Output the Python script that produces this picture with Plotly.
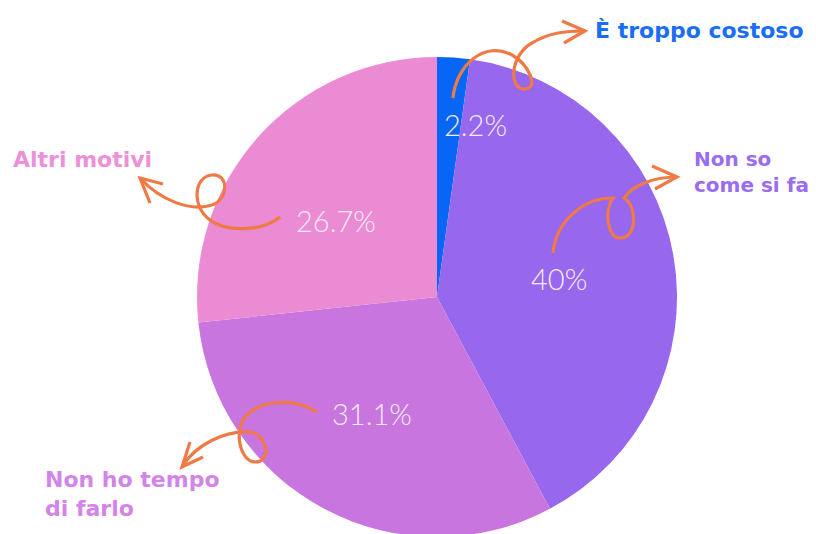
import plotly.graph_objects as go

# ---- data ----
categories = ["È troppo costoso", "Non so come si fa", "Non ho tempo di farlo", "Altri motivi"]
label_texts = ["È troppo costoso", "Non so<br>come si fa", "Non ho tempo<br>di farlo", "Altri motivi"]
values = [2.2, 40, 31.1, 26.7]

slice_colors = ["#0866f7", "#9767ee", "#c875df", "#eb8bd4"]
label_colors = ["#1a6ef5", "#9a6cf0", "#d384e8", "#ee90d8"]
label_sizes = [22, 20, 22, 22]
arrow_color = "#f07a45"

W, H = 816, 534
OFF = 8  # page body margin


def px(x, y):
    return (x - OFF) / W, 1 - (y - OFF) / H


def path(cmds):
    out = []
    for c in cmds:
        if isinstance(c, str):
            out.append(c)
        else:
            a, b = px(*c)
            out.append(f"{a:.5f},{b:.5f}")
    return " ".join(out)


# pie placed so that its centre is at (437, 297) px with radius 240
cx, cy, r = 437, 297, 240
x0, _ = px(cx - r, 0)
x1, _ = px(cx + r, 0)
_, y1 = px(0, cy - r)
_, y0 = px(0, cy + r)

fig = go.Figure(go.Pie(
    labels=categories,
    values=values,
    sort=False,
    direction="clockwise",
    rotation=0,
    marker=dict(colors=slice_colors, line=dict(width=0)),
    textinfo="none",
    hoverinfo="skip",
    domain=dict(x=[x0, x1], y=[max(y0, 0), min(y1, 1)]),
    showlegend=False,
))

# percent labels (positions in pixels)
pct_pos = [(476, 125), (559, 278), (372, 413), (336, 220)]
annotations = []
for v, (x, y) in zip(values, pct_pos):
    ax, ay = px(x, y)
    annotations.append(dict(
        x=ax, y=ay, xref="paper", yref="paper", showarrow=False,
        text=f"{v:g}%", xanchor="center", yanchor="middle",
        font=dict(family="Lato", size=29, color="#f5ecf7", weight=300),
    ))

# category labels
lab_pos = [(593, 31), (692, 172), (43, 494), (11, 159)]
for t, c, s, (x, y) in zip(label_texts, label_colors, label_sizes, lab_pos):
    ax, ay = px(x, y)
    annotations.append(dict(
        x=ax, y=ay, xref="paper", yref="paper", showarrow=False,
        text=f"<b>{t}</b>", xanchor="left", yanchor="middle", align="left",
        font=dict(family="DejaVu Sans", size=s, color=c),
    ))

line = dict(color=arrow_color, width=3.2)
arrow_paths = [
    # È troppo costoso
    ["M", (453, 98), "C", (456, 65), (485, 40), (512, 55),
     "C", (528, 64), (540, 88), (525, 89),
     "C", (508, 90), (510, 55), (532, 43),
     "C", (548, 33), (565, 31), (585, 31)],
    ["M", (562, 21), "L", (585, 31), "L", (564, 43)],
    # Non so come si fa
    ["M", (553, 253), "C", (556, 222), (582, 198), (613, 198),
     "C", (604, 210), (607, 238), (620, 238),
     "C", (638, 238), (637, 205), (624, 198),
     "C", (632, 186), (652, 177), (677, 177)],
    ["M", (652, 166), "L", (677, 177), "L", (655, 189)],
    # Altri motivi
    ["M", (280, 217), "C", (262, 232), (225, 232), (210, 220),
     "C", (190, 205), (195, 176), (212, 175),
     "C", (230, 174), (228, 200), (212, 205),
     "C", (190, 212), (160, 200), (140, 178)],
    ["M", (163, 184), "L", (140, 178), "L", (150, 203)],
    # Non ho tempo di farlo
    ["M", (317, 412), "C", (295, 398), (262, 400), (248, 414),
     "C", (232, 428), (240, 462), (255, 462),
     "C", (272, 462), (268, 435), (250, 432),
     "C", (225, 430), (195, 445), (182, 467)],
    ["M", (190, 442), "L", (182, 467), "L", (203, 457)],
]
shapes = [dict(type="path", path=path(p), xref="paper", yref="paper", line=line,
               fillcolor="rgba(0,0,0,0)") for p in arrow_paths]

fig.update_layout(
    width=W, height=H,
    margin=dict(l=0, r=0, t=0, b=0),
    paper_bgcolor="white", plot_bgcolor="white",
    annotations=annotations,
    shapes=shapes,
)

fig.write_html("out.html")
